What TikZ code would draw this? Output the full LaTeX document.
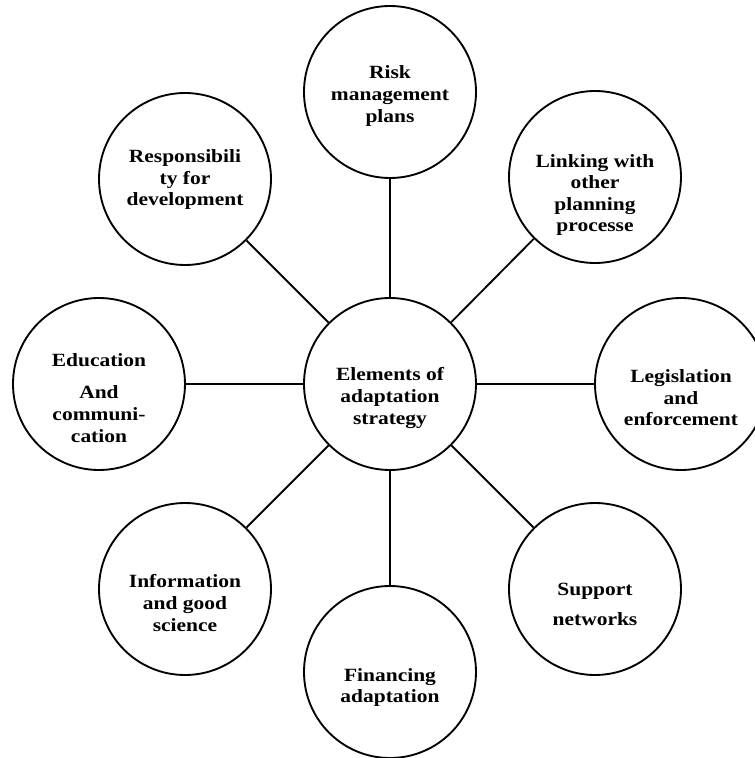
\documentclass[tikz,border=0pt]{standalone}
\usepackage{fontspec}
\setmainfont{Liberation Serif}[FakeStretch=1.15]
\usepackage{tikz}
\usetikzlibrary{positioning}

\begin{document}
\begin{tikzpicture}[x=0.75pt, y=0.75pt, font=\bfseries\fontsize{14}{16.2}\selectfont,
	bubble/.style={draw, circle, line width=1.4pt, minimum size=129pt, inner sep=0pt},
	tag/.style={align=center, inner sep=0pt, yshift=-10.5pt},
	link/.style={line width=1.4pt}]
		\useasboundingbox (-390,-374) rectangle (365,384);
		\node[bubble, label={[tag]center:{Elements of\\adaptation\\strategy}}] (hub) at (0,0) {};
		\node[bubble, label={[tag, yshift=7.5pt]center:{Risk\\management\\plans}}] (risk) at (0,292) {};
		\node[bubble, label={[tag, yshift=-3pt]center:{Linking with\\other\\planning\\processe}}] (linking) at (205,207) {};
		\node[bubble, label={[tag]center:{Legislation\\and\\enforcement}}] (legislation) at (291,0) {};
		\node[bubble, label={[tag, yshift=-1pt]center:{Support\\[6pt]networks}}] (support) at (205,-205) {};
		\node[bubble, label={[tag, yshift=-1pt]center:{Financing\\adaptation}}] (financing) at (0,-288) {};
		\node[bubble, label={[tag]center:{Information\\and good\\science}}] (information) at (-205,-205) {};
		\node[bubble, label={[tag]center:{Education\\[8pt]And\\communi-\\cation}}] (education) at (-291,0) {};
		\node[bubble, label={[tag, yshift=10pt]center:{Responsibili\\ty for\\development}}] (responsibility) at (-205,205) {};
		\foreach \leaf in {risk, linking, legislation, support, financing, information, education, responsibility}
			\draw[link] (hub) -- (\leaf);
	\end{tikzpicture}
\end{document}
